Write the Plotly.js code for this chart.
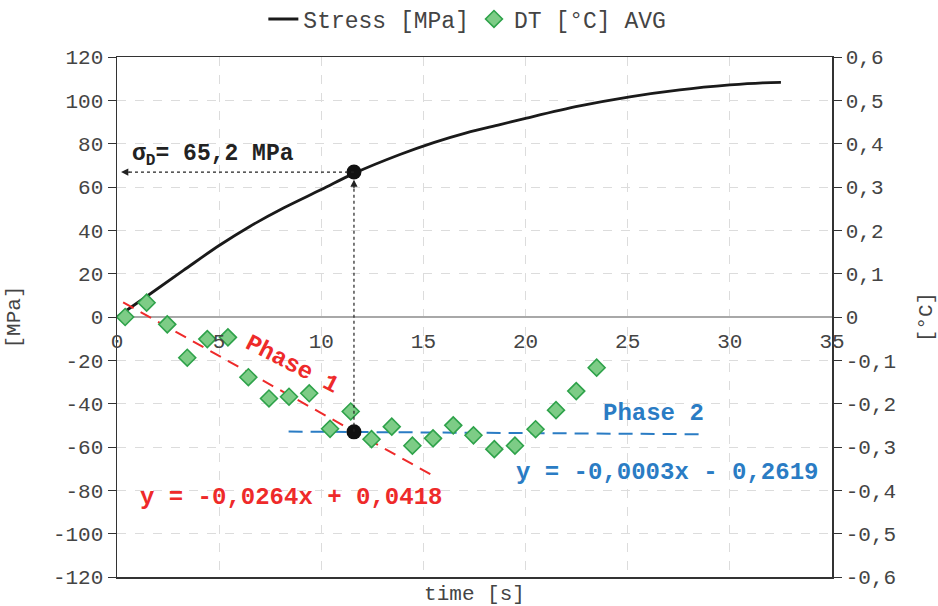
<!DOCTYPE html>
<html><head><meta charset="utf-8">
<script src="https://cdn.plot.ly/plotly-3.0.1.min.js"></script>
<style>html,body{margin:0;padding:0;background:#fff}#chart{width:938px;height:606px}</style>
</head><body><div id="chart"></div>
<script>
// Stress curve [MPa] vs time [s]
const stressTime = [0, 1.6, 3.25, 5.0, 6.5, 8.15, 10.0, 11.6, 13.85, 15.5, 17.1, 18.75, 20.05, 22.65, 25.1, 27.55, 30.0, 31.6, 32.5];
const stressMPa  = [0, 10.5, 21.5, 33.0, 41.8, 50.3, 58.8, 66.3, 75.0, 80.5, 85.0, 88.8, 91.8, 97.4, 101.6, 104.8, 107.1, 108.1, 108.3];
// DT [°C] AVG points
const dtTime = [0.4, 1.45, 2.46, 3.44, 4.42, 5.43, 6.43, 7.44, 8.42, 9.41, 10.43, 11.44, 12.46, 13.45, 14.46, 15.47, 16.46, 17.45, 18.47, 19.48, 20.49, 21.49, 22.48, 23.48];
const dtC    = [0.0, 0.033, -0.017, -0.094, -0.051, -0.047, -0.139, -0.188, -0.184, -0.176, -0.258, -0.218, -0.282, -0.253, -0.297, -0.280, -0.250, -0.273, -0.305, -0.297, -0.259, -0.215, -0.171, -0.117];
// Trend lines (°C)
const phase1Time = [0.3, 15.5];
const phase1C    = [0.034, -0.367];
const phase2Time = [8.4, 28.5];
const phase2C    = [-0.2644, -0.2705];
// Highlighted points (right axis, °C scale; upper = 66,9 MPa on the stress curve)
const dotTime = [11.6, 11.6];
const dotC    = [0.3345, -0.265];
// Tick labels
const xTicks = [0, 5, 10, 15, 20, 25, 30, 35];
const yLeftTicks = [-120, -100, -80, -60, -40, -20, 0, 20, 40, 60, 80, 100, 120];
const yRightTicks = [-0.6, -0.5, -0.4, -0.3, -0.2, -0.1, 0, 0.1, 0.2, 0.3, 0.4, 0.5, 0.6];
const yRightText = ['-0,6','-0,5','-0,4','-0,3','-0,2','-0,1','0','0,1','0,2','0,3','0,4','0,5','0,6'];
const yLeftText = yLeftTicks.map(v => v < 0 ? '-' + Math.abs(v) : String(v));

const FONT = 'Liberation Mono, Courier New, monospace';
const RED = '#ee2a2a', BLUE = '#2a7cc4', TXT = '#444';

const traces = [
  {x: stressTime, y: stressMPa, type: 'scatter', mode: 'lines', name: 'Stress [MPa]',
   line: {color: '#1a1a1a', width: 2.8, shape: 'spline', smoothing: 1}, xaxis: 'x', yaxis: 'y'},
  {x: phase1Time, y: phase1C, type: 'scatter', mode: 'lines', showlegend: false,
   line: {color: RED, width: 2, dash: '12px,8px'}, xaxis: 'x2', yaxis: 'y2'},
  {x: phase2Time, y: phase2C, type: 'scatter', mode: 'lines', showlegend: false,
   line: {color: BLUE, width: 2, dash: '14px,8px'}, xaxis: 'x2', yaxis: 'y2'},
  {x: dtTime, y: dtC, type: 'scatter', mode: 'markers', name: 'DT [°C] AVG',
   marker: {symbol: 'diamond', size: 13, color: '#7dcc86', line: {color: '#2ea24a', width: 1.6}},
   xaxis: 'x2', yaxis: 'y2'},
  {x: dotTime, y: dotC, type: 'scatter', mode: 'markers', showlegend: false,
   marker: {color: '#111', size: 15}, xaxis: 'x2', yaxis: 'y2'}
];

const gridCol = '#dcdcdc';
const ann = (px, py, text, size, color, extra) => Object.assign({
  xref: 'paper', yref: 'paper', x: (px - 117) / 715, y: (577 - py) / 520,
  xanchor: 'center', yanchor: 'middle', showarrow: false, text: text,
  font: {family: FONT, size: size, color: color}}, extra || {});

const layout = {
  width: 938, height: 606,
  margin: {l: 117, r: 106, t: 57, b: 29, autoexpand: false},
  paper_bgcolor: '#fff', plot_bgcolor: '#fff',
  font: {family: FONT, size: 21, color: TXT},
  showlegend: true,
  legend: {orientation: 'h', x: 0.49, xanchor: 'center', y: 1.073, yanchor: 'middle',
           font: {family: FONT, size: 23, color: TXT}, itemwidth: 30, traceorder: 'normal'},
  xaxis: {range: [0, 35], showline: true, mirror: true, linecolor: '#333', linewidth: 1.5,
          showticklabels: false, ticks: '', tickvals: xTicks,
          showgrid: true, gridcolor: gridCol, griddash: 'dash', gridwidth: 1, zeroline: false,
          title: {text: 'time [s]', font: {family: FONT, size: 21, color: TXT}, standoff: 8}},
  xaxis2: {range: [0, 35], overlaying: 'x', anchor: 'free', position: 0.5, side: 'bottom',
           showline: false, showgrid: false, zeroline: false,
           tickvals: xTicks, ticktext: xTicks.map(String), ticks: 'outside', ticklen: 5, tickcolor: 'rgba(0,0,0,0)',
           tickfont: {family: FONT, size: 21, color: TXT}},
  yaxis: {range: [-120, 120], tickvals: yLeftTicks, ticktext: yLeftText,
          showline: true, linecolor: '#333', linewidth: 1.5, ticks: 'outside', ticklen: 8, tickcolor: '#333',
          showgrid: true, gridcolor: gridCol, griddash: 'dash', gridwidth: 1,
          zeroline: true, zerolinecolor: '#a8a8a8', zerolinewidth: 1.5,
          tickfont: {family: FONT, size: 21, color: TXT},
          title: {text: '[MPa]', font: {family: FONT, size: 21, color: TXT}, standoff: 26}},
  yaxis2: {range: [-0.6, 0.6], overlaying: 'y', side: 'right', anchor: 'x',
           tickvals: yRightTicks, ticktext: yRightText,
           showline: true, linecolor: '#333', linewidth: 1.5, ticks: 'outside', ticklen: 8, tickcolor: '#333',
           showgrid: false, zeroline: false,
           tickfont: {family: FONT, size: 21, color: TXT},
           title: {text: '[°C]', font: {family: FONT, size: 21, color: TXT}, standoff: 26}},
  shapes: [
    {type: 'line', xref: 'x2', yref: 'y2', x0: dotTime[0], x1: 0.3, y0: dotC[0], y1: dotC[0],
     line: {color: '#222', width: 1.2, dash: 'dot'}},
    {type: 'line', xref: 'x2', yref: 'y2', x0: dotTime[1], x1: dotTime[1], y0: dotC[1], y1: dotC[0] - 0.02,
     line: {color: '#222', width: 1.2, dash: 'dot'}}
  ],
  annotations: [
    {xref: 'x2', yref: 'y2', x: 0.2, y: dotC[0], ax: 10, ay: 0, text: '', showarrow: true,
     arrowhead: 2, arrowsize: 1.2, arrowwidth: 1.2, arrowcolor: '#222'},
    {xref: 'x2', yref: 'y2', x: dotTime[1], y: dotC[0] - 0.0175, ax: 0, ay: 10, text: '', showarrow: true,
     arrowhead: 2, arrowsize: 1.2, arrowwidth: 1.2, arrowcolor: '#222'},
    ann(213, 155, '<b>σ<sub>D</sub>= 65,2 MPa</b>', 23, '#222'),
    ann(292, 364, '<b>Phase 1</b>', 24, RED, {textangle: 27}),
    ann(653, 413, '<b>Phase 2</b>', 24, BLUE),
    ann(291, 497, '<b>y = -0,0264x + 0,0418</b>', 24, RED),
    ann(667, 472, '<b>y = -0,0003x - 0,2619</b>', 24, BLUE)
  ]
};

Plotly.newPlot('chart', traces, layout, {displayModeBar: false, staticPlot: true});
</script></body></html>
